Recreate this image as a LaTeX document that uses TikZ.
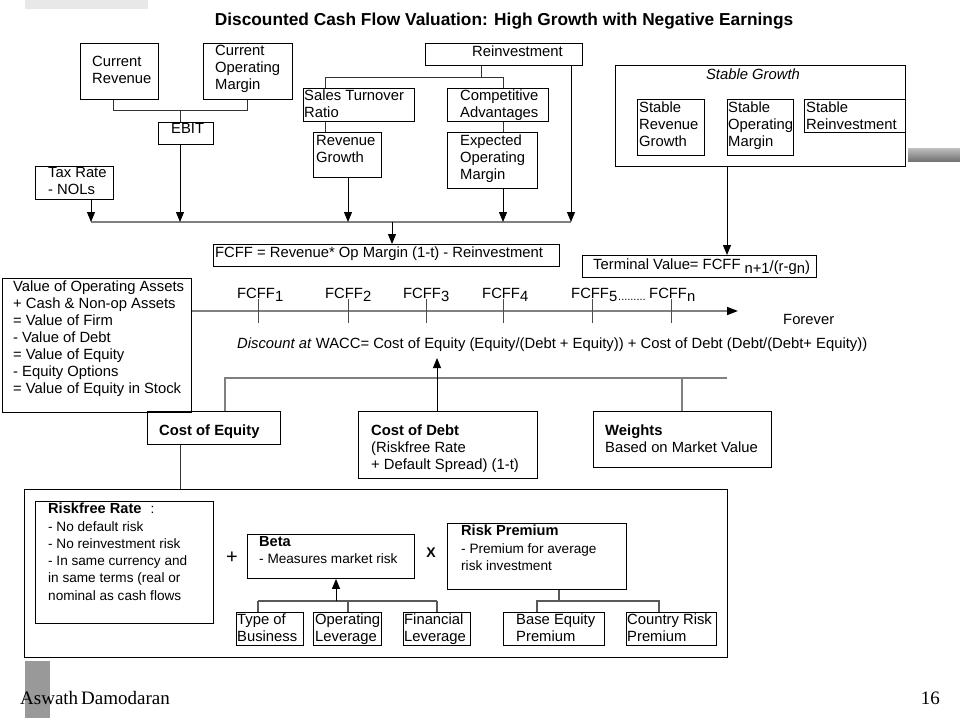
\documentclass[tikz,border=0pt]{standalone}
\usepackage{fontspec}
\setmainfont{Liberation Sans}
\newfontfamily\timesf{Liberation Serif}
\usetikzlibrary{arrows.meta}
\newcommand\fA{\fontsize{14.8}{17}\selectfont}
\newcommand\fB{\fontsize{13.6}{17.3}\selectfont}
\newcommand\hb[1]{{\fontsize{14.6}{17.3}\selectfont\bfseries #1}}
\begin{document}
\begin{tikzpicture}[x=1pt,y=-1pt,
  bx/.style={draw=black, line width=0.9pt, inner sep=0pt, anchor=north west},
  tx/.style={inner sep=0pt, anchor=north west, align=left, font=\fA},
  txb/.style={inner sep=0pt, anchor=north west, align=left, font=\fB},
  ln/.style={draw=black!80, line width=0.9pt},
  gl/.style={draw=black!50, line width=1.6pt},
  gd/.style={draw=black!65, line width=1.3pt},
  arr/.style={draw=black, line width=1pt, -{Triangle[width=8pt,length=10pt]}},
  tk/.style={draw=black!70, line width=0.9pt}]
\useasboundingbox (0,0) rectangle (960,720);
% decorations
\fill[black!9] (25,0) rectangle (148,9);
\shade[top color=black!25, bottom color=black!55] (908,148) rectangle (960,161);
\fill[black!40] (25,661) rectangle (50,718);
% title
\node[anchor=base, inner sep=0pt, font=\bfseries\fontsize{17.3}{20}\selectfont] (title) at (504,25) {Discounted Cash Flow Valuation: High Growth with Negative Earnings};
% top boxes
\node[bx, minimum width=78, minimum height=56] (currev) at (80,43) {};
\node[tx] (currevt) at (92,56) {Current\\Revenue};
\node[bx, minimum width=89, minimum height=56] (curom) at (203,43) {};
\node[tx] (curomt) at (215,45) {Current\\Operating\\Margin};
\node[bx, minimum width=55, minimum height=22] (ebit) at (158,122) {};
\node[tx] (ebitt) at (171,123.5) {EBIT};
\node[bx, minimum width=78, minimum height=33] (tax) at (35,166) {};
\node[tx] (taxt) at (48,167) {Tax Rate\\- NOLs};
\node[bx, minimum width=157, minimum height=22] (reinv) at (425,43) {};
\node[tx] (reinvt) at (472,46) {Reinvestment};
\node[bx, minimum width=111, minimum height=33] (str) at (303,88) {};
\node[tx] (strt) at (304,90) {Sales Turnover\\Ratio};
\node[bx, minimum width=101, minimum height=33] (ca) at (447,88) {};
\node[tx] (cat) at (460,90) {Competitive\\Advantages};
\node[bx, minimum width=68, minimum height=45] (rg) at (313,132) {};
\node[tx] (rgt) at (316,135) {Revenue\\Growth};
\node[bx, minimum width=90, minimum height=56] (eom) at (447,132) {};
\node[tx] (eomt) at (460,135) {Expected\\Operating\\Margin};
\node[bx, minimum width=346, minimum height=22] (fcff) at (213,244) {};
\node[tx] (fcfft) at (215,247) {FCFF = Revenue* Op Margin (1-t) - Reinvestment};
% stable growth
\node[bx, minimum width=290, minimum height=101] (sg) at (615,65) {};
\node[anchor=north, inner sep=0pt, font=\fA\itshape] (sgt) at (753,69) {Stable Growth};
\node[bx, minimum width=67, minimum height=56] (srg) at (637,99) {};
\node[tx] (srgt) at (639,102) {Stable\\Revenue\\Growth};
\node[bx, minimum width=66, minimum height=56] (som) at (727,99) {};
\node[tx] (somt) at (728,102) {Stable\\Operating\\Margin};
\node[bx, minimum width=101, minimum height=33] (sr) at (804,99) {};
\node[tx] (srt) at (806,102) {Stable\\Reinvestment};
\node[bx, minimum width=234, minimum height=22] (tv) at (582,255) {};
\node[tx] (tvt) at (593,259) {Terminal Value= FCFF\hspace{4pt}\raisebox{-4pt}{n+1}\raisebox{-1.5pt}{/(r-g\raisebox{-2.5pt}{n})}};
% value box
\node[bx, minimum width=189, minimum height=134] (val) at (2,278) {};
\node[tx] (valt) at (13,281) {Value of Operating Assets\\+ Cash \& Non-op Assets\\= Value of Firm\\- Value of Debt\\= Value of Equity\\- Equity Options\\= Value of Equity in Stock};
% timeline labels
\node[tx] (f1) at (237,288) {FCFF\raisebox{-2.5pt}{1}};
\node[tx] (f2) at (325,288) {FCFF\raisebox{-2.5pt}{2}};
\node[tx] (f3) at (403,288) {FCFF\raisebox{-2.5pt}{3}};
\node[tx] (f4) at (482,288) {FCFF\raisebox{-2.5pt}{4}};
\node[tx] (f5) at (571,288) {FCFF\raisebox{-2.5pt}{5}};
\node[tx] (fn) at (649,288) {FCFF\raisebox{-2.5pt}{n}};
\node[anchor=base west, inner sep=0pt, font=\fontsize{11}{12}\selectfont] (dots) at (618,300) {.........};
\node[tx] (forever) at (783,314) {Forever};
\node[tx] (disc) at (237,338) {\textit{Discount at} WACC= Cost of Equity (Equity/(Debt + Equity)) + Cost of Debt (Debt/(Debt+ Equity))};
% cost boxes
\node[bx, minimum width=133, minimum height=33] (coe) at (147,411) {};
\node[tx] (coet) at (159,425) {\textbf{Cost of Equity}};
\node[bx, minimum width=179, minimum height=67] (cod) at (358,411) {};
\node[tx] (codt) at (371,425) {\textbf{Cost of Debt}\\(Riskfree Rate\\+ Default Spread) (1-t)};
\node[bx, minimum width=178, minimum height=56] (wts) at (593,411) {};
\node[tx] (wtst) at (605,425) {\textbf{Weights}\\Based on Market Value};
% bottom big box
\node[bx, minimum width=703, minimum height=168] (big) at (24,489) {};
\node[bx, minimum width=178, minimum height=122] (rf) at (35,501) {};
\node[txb] (rft) at (48,503) {\hb{Riskfree Rate}\hspace{9pt}:\\- No default risk\\- No reinvestment risk\\- In same currency and\\in same terms (real or\\nominal as cash flows};
\node[inner sep=0pt, font=\fontsize{20}{20}\selectfont] (plus) at (232,558) {+};
\node[bx, minimum width=167, minimum height=44] (beta) at (247,534) {};
\node[txb] (betat) at (259,536) {\hb{Beta}\\- Measures market risk};
\node[inner sep=0pt, font=\bfseries\fontsize{14}{14}\selectfont] (times) at (431,553) {X};
\node[bx, minimum width=179, minimum height=66] (rp) at (447,523) {};
\node[txb] (rpt) at (461,525) {\hb{Risk Premium}\\- Premium for average\\risk investment};
\node[bx, minimum width=67, minimum height=33] (tob) at (236,612) {};
\node[tx] (tobt) at (237,614) {Type of\\Business};
\node[bx, minimum width=68, minimum height=33] (ol) at (313,612) {};
\node[tx] (olt) at (315,614) {Operating\\Leverage};
\node[bx, minimum width=67, minimum height=33] (fl) at (403,612) {};
\node[tx] (flt) at (404,614) {Financial\\Leverage};
\node[bx, minimum width=101, minimum height=33] (bep) at (503,612) {};
\node[tx] (bept) at (516,614) {Base Equity\\Premium};
\node[bx, minimum width=90, minimum height=33] (crp) at (626,612) {};
\node[tx] (crpt) at (627,614) {Country Risk\\Premium};
% footer
\node[anchor=base west, inner sep=0pt, font=\timesf\fontsize{19}{20}\selectfont] (auth) at (20,704) {Aswath\hspace{3pt}Damodaran};
\node[anchor=base east, inner sep=0pt, font=\timesf\fontsize{19}{20}\selectfont] (page) at (940,704) {16};
% ---------- connectors ----------
\coordinate (m1) at (113,110); \coordinate (m2) at (247,110); \coordinate (m3) at (180,110);
\draw[ln] (currev.south -| m1) -- (m1) -- (m2) -- (curom.south -| m2);
\draw[ln] (m3) -- (ebit.north -| m3);
\coordinate (bus1) at (91,222); \coordinate (bus2) at (571,222);
\draw[gl] (bus1) -- (bus2);
\draw[arr] (tax.south -| bus1) -- (bus1);
\draw[arr] (ebit.south -| m3) -- (m3 |- bus1);
\draw[arr] (reinv.south -| bus2) -- (bus2);
\coordinate (r1) at (481,77); \coordinate (r2) at (325,77); \coordinate (r3) at (503,77);
\draw[ln] (reinv.south -| r1) -- (r1);
\draw[ln] (str.north -| r2) -- (r2) -- (r3) -- (ca.north -| r3);
\draw[ln] (str.south -| r2) -- (rg.north -| r2);
\draw[ln] (ca.south -| r3) -- (eom.north -| r3);
\coordinate (rgx) at (348,222);
\draw[arr] (rg.south -| rgx) -- (rgx);
\draw[arr] (eom.south -| r3) -- (r3 |- bus1);
\coordinate (fx) at (392,222);
\draw[arr] (fx) -- (fcff.north -| fx);
\coordinate (tvx) at (727,166);
\draw[arr] (sg.south -| tvx) -- (tv.north -| tvx);
% timeline
\coordinate (tl) at (738,311);
\draw[gl, -{Triangle[width=8pt,length=11pt,color=black]}] (val.east |- tl) -- (tl);
\foreach \x in {258,348,426,503,592,671} \draw[tk] (\x,299) -- (\x,323);
% WACC links
\coordinate (w1) at (225,378); \coordinate (w2) at (727,378); \coordinate (w3) at (682,378);
\draw[gl] (coe.north -| w1) -- (w1) -- (w2);
\draw[gl] (w3) -- (wts.north -| w3);
\coordinate (ua) at (437,358);
\draw[arr] (cod.north -| ua) -- (ua);
\coordinate (cx) at (180,460);
\draw[ln] (coe.south -| cx) -- (big.north -| cx);
% beta links
\coordinate (b0) at (336,601); \coordinate (b1) at (258,601); \coordinate (b2) at (437,601); \coordinate (b3) at (348,601);
\draw[gd] (b1) -- (b2);
\draw[gd] (tob.north -| b1) -- (b1);
\draw[gd] (ol.north -| b3) -- (b3);
\draw[gd] (fl.north -| b2) -- (b2);
\draw[arr] (b0) -- (beta.south -| b0);
% risk premium links
\coordinate (p0) at (559,601); \coordinate (p1) at (537,601); \coordinate (p2) at (659,601);
\draw[gd] (rp.south -| p0) -- (p0);
\draw[gd] (bep.north -| p1) -- (p1) -- (p2) -- (crp.north -| p2);
\end{tikzpicture}
\end{document}
